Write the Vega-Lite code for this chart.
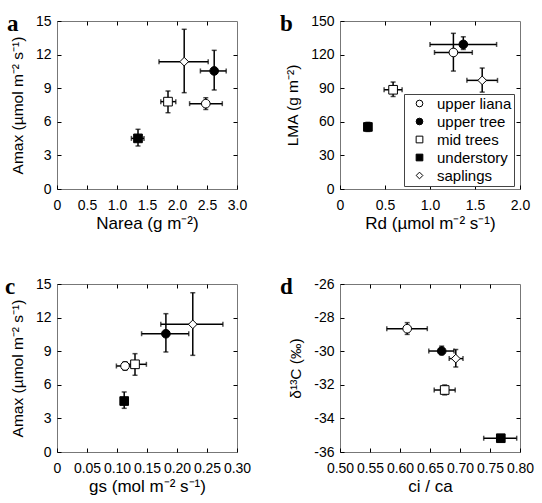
{
  "$schema": "https://vega.github.io/schema/vega-lite/v6.json",
  "padding": {"left": 4, "top": 12, "right": 5, "bottom": 5},
  "background": "white",
  "datasets": {
    "a": [
      {"group": "upper liana", "x": 2.48, "xlo": 2.21, "xhi": 2.755, "y": 7.62, "ylo": 7.1, "yhi": 8.15},
      {"group": "upper tree", "x": 2.62, "xlo": 2.39, "xhi": 2.82, "y": 10.54, "ylo": 8.84, "yhi": 12.38},
      {"group": "mid trees", "x": 1.85, "xlo": 1.73, "xhi": 1.98, "y": 7.8, "ylo": 6.81, "yhi": 8.75},
      {"group": "understory", "x": 1.35, "xlo": 1.24, "xhi": 1.45, "y": 4.52, "ylo": 3.84, "yhi": 5.33},
      {"group": "saplings", "x": 2.12, "xlo": 1.7, "xhi": 2.52, "y": 11.37, "ylo": 8.6, "yhi": 14.26}
    ],
    "b": [
      {"group": "upper liana", "x": 1.26, "xlo": 1.05, "xhi": 1.47, "y": 121.9, "ylo": 105.3, "yhi": 139},
      {"group": "upper tree", "x": 1.37, "xlo": 1.0, "xhi": 1.74, "y": 129.1, "ylo": 124.6, "yhi": 135.9},
      {"group": "mid trees", "x": 0.59, "xlo": 0.49, "xhi": 0.69, "y": 88.6, "ylo": 82.6, "yhi": 95.5},
      {"group": "understory", "x": 0.31, "xlo": 0.28, "xhi": 0.34, "y": 55.4, "ylo": 51.4, "yhi": 59.5},
      {"group": "saplings", "x": 1.58, "xlo": 1.41, "xhi": 1.75, "y": 97, "ylo": 86.5, "yhi": 108}
    ],
    "c": [
      {"group": "upper liana", "x": 0.1134, "xlo": 0.099, "xhi": 0.125, "y": 7.68, "ylo": 7.3, "yhi": 8.06},
      {"group": "upper tree", "x": 0.1815, "xlo": 0.141, "xhi": 0.2196, "y": 10.56, "ylo": 8.93, "yhi": 12.35},
      {"group": "mid trees", "x": 0.13, "xlo": 0.116, "xhi": 0.149, "y": 7.83, "ylo": 6.85, "yhi": 8.78},
      {"group": "understory", "x": 0.112, "xlo": 0.108, "xhi": 0.116, "y": 4.55, "ylo": 3.9, "yhi": 5.36},
      {"group": "saplings", "x": 0.2263, "xlo": 0.173, "xhi": 0.2765, "y": 11.4, "ylo": 8.63, "yhi": 14.22}
    ],
    "d": [
      {"group": "upper liana", "x": 0.612, "xlo": 0.578, "xhi": 0.6455, "y": -28.66, "ylo": -29.0, "yhi": -28.3},
      {"group": "upper tree", "x": 0.6695, "xlo": 0.648, "xhi": 0.69, "y": -29.99, "ylo": -30.2, "yhi": -29.7},
      {"group": "mid trees", "x": 0.6745, "xlo": 0.657, "xhi": 0.692, "y": -32.31, "ylo": -32.6, "yhi": -32.01},
      {"group": "understory", "x": 0.768, "xlo": 0.7395, "xhi": 0.7945, "y": -35.18, "ylo": -35.3, "yhi": -35.06},
      {"group": "saplings", "x": 0.693, "xlo": 0.682, "xhi": 0.705, "y": -30.44, "ylo": -30.94, "yhi": -29.9}
    ]
  },
  "columns": 2,
  "spacing": {"row": 95, "column": 103},
  "bounds": "flush",
  "resolve": {"scale": {"shape": "independent", "fill": "independent"}, "legend": {"shape": "independent", "fill": "independent"}},
  "concat": [
    {
      "width": 180, "height": 168,
      "data": {"name": "a"},
      "title": {"text": "a", "dx": -50},
      "resolve": {"axis": {"x": "independent", "y": "independent"}},
      "layer": [
        {
          "mark": {"type": "errorbar", "ticks": true, "size": 5, "thickness": 1.5, "color": "black"},
          "encoding": {
            "x": {"field": "xlo", "type": "quantitative", "scale": {"domain": [0, 3], "nice": false, "zero": false}, "axis": {"orient": "top", "labels": false, "title": null, "values": [0.5, 1, 1.5, 2, 2.5]}},
            "x2": {"field": "xhi"},
            "y": {"field": "y", "type": "quantitative", "scale": {"domain": [0, 15], "nice": false, "zero": false}, "axis": null}
          }
        },
        {
          "mark": {"type": "errorbar", "ticks": true, "size": 5, "thickness": 1.5, "color": "black"},
          "encoding": {
            "y": {"field": "ylo", "type": "quantitative", "scale": {"domain": [0, 15], "nice": false, "zero": false}, "axis": {"orient": "right", "labels": false, "title": null, "values": [3, 6, 9, 12]}},
            "y2": {"field": "yhi"},
            "x": {"field": "x", "type": "quantitative", "scale": {"domain": [0, 3], "nice": false, "zero": false}, "axis": null}
          }
        },
        {
          "mark": {"type": "point", "filled": true, "stroke": "black", "strokeWidth": 1, "size": 75, "opacity": 1},
          "encoding": {
            "x": {"field": "x", "type": "quantitative", "scale": {"domain": [0, 3], "nice": false, "zero": false}, "axis": {"values": [0, 0.5, 1, 1.5, 2, 2.5, 3], "title": "Narea (g m⁻²)", "labelExpr": "datum.value == 0 ? '0' : format(datum.value, '.1f')"}},
            "y": {"field": "y", "type": "quantitative", "scale": {"domain": [0, 15], "nice": false, "zero": false}, "axis": {"values": [0, 3, 6, 9, 12, 15], "title": "Amax (µmol m⁻² s⁻¹)"}},
            "shape": {"field": "group", "type": "nominal", "scale": {"domain": ["upper liana", "upper tree", "mid trees", "understory", "saplings"], "range": ["circle", "circle", "square", "square", "diamond"]}, "legend": null},
            "fill": {"field": "group", "type": "nominal", "scale": {"domain": ["upper liana", "upper tree", "mid trees", "understory", "saplings"], "range": ["white", "black", "white", "black", "white"]}, "legend": null}
          }
        }
      ]
    },
    {
      "width": 180, "height": 168,
      "data": {"name": "b"},
      "title": {"text": "b", "dx": -60},
      "resolve": {"axis": {"x": "independent", "y": "independent"}},
      "layer": [
        {
          "mark": {"type": "errorbar", "ticks": true, "size": 5, "thickness": 1.5, "color": "black"},
          "encoding": {
            "x": {"field": "xlo", "type": "quantitative", "scale": {"domain": [0, 2], "nice": false, "zero": false}, "axis": {"orient": "top", "labels": false, "title": null, "values": [0.5, 1, 1.5]}},
            "x2": {"field": "xhi"},
            "y": {"field": "y", "type": "quantitative", "scale": {"domain": [0, 150], "nice": false, "zero": false}, "axis": null}
          }
        },
        {
          "mark": {"type": "errorbar", "ticks": true, "size": 5, "thickness": 1.5, "color": "black"},
          "encoding": {
            "y": {"field": "ylo", "type": "quantitative", "scale": {"domain": [0, 150], "nice": false, "zero": false}, "axis": {"orient": "right", "labels": false, "title": null, "values": [30, 60, 90, 120]}},
            "y2": {"field": "yhi"},
            "x": {"field": "x", "type": "quantitative", "scale": {"domain": [0, 2], "nice": false, "zero": false}, "axis": null}
          }
        },
        {
          "mark": {"type": "point", "filled": true, "stroke": "black", "strokeWidth": 1, "size": 75, "opacity": 1},
          "encoding": {
            "x": {"field": "x", "type": "quantitative", "scale": {"domain": [0, 2], "nice": false, "zero": false}, "axis": {"values": [0, 0.5, 1, 1.5, 2], "title": "Rd (µmol m⁻² s⁻¹)", "labelExpr": "datum.value == 0 ? '0' : format(datum.value, '.1f')"}},
            "y": {"field": "y", "type": "quantitative", "scale": {"domain": [0, 150], "nice": false, "zero": false}, "axis": {"values": [0, 30, 60, 90, 120, 150], "title": "LMA (g m⁻²)"}},
            "shape": {"field": "group", "type": "nominal", "scale": {"domain": ["upper liana", "upper tree", "mid trees", "understory", "saplings"], "range": ["circle", "circle", "square", "square", "diamond"]},
              "legend": {"orient": "none", "legendX": 64, "legendY": 73, "title": null, "strokeColor": "#444", "fillColor": "white", "padding": 2, "symbolOffset": 6, "labelFont": "Liberation Sans", "labelFontSize": 15, "labelColor": "black", "symbolSize": 45, "rowPadding": 2, "labelOffset": 10, "symbolStrokeWidth": 1}},
            "fill": {"field": "group", "type": "nominal", "scale": {"domain": ["upper liana", "upper tree", "mid trees", "understory", "saplings"], "range": ["white", "black", "white", "black", "white"]},
              "legend": {"orient": "none", "legendX": 64, "legendY": 73, "title": null, "strokeColor": "#444", "fillColor": "white", "padding": 2, "symbolOffset": 6, "labelFont": "Liberation Sans", "labelFontSize": 15, "labelColor": "black", "symbolSize": 45, "rowPadding": 2, "labelOffset": 10, "symbolStrokeWidth": 1}}
          }
        }
      ]
    },
    {
      "width": 180, "height": 168,
      "data": {"name": "c"},
      "title": {"text": "c", "dx": -52},
      "resolve": {"axis": {"x": "independent", "y": "independent"}},
      "layer": [
        {
          "mark": {"type": "errorbar", "ticks": true, "size": 5, "thickness": 1.5, "color": "black"},
          "encoding": {
            "x": {"field": "xlo", "type": "quantitative", "scale": {"domain": [0, 0.3], "nice": false, "zero": false}, "axis": {"orient": "top", "labels": false, "title": null, "values": [0.05, 0.1, 0.15, 0.2, 0.25]}},
            "x2": {"field": "xhi"},
            "y": {"field": "y", "type": "quantitative", "scale": {"domain": [0, 15], "nice": false, "zero": false}, "axis": null}
          }
        },
        {
          "mark": {"type": "errorbar", "ticks": true, "size": 5, "thickness": 1.5, "color": "black"},
          "encoding": {
            "y": {"field": "ylo", "type": "quantitative", "scale": {"domain": [0, 15], "nice": false, "zero": false}, "axis": {"orient": "right", "labels": false, "title": null, "values": [3, 6, 9, 12]}},
            "y2": {"field": "yhi"},
            "x": {"field": "x", "type": "quantitative", "scale": {"domain": [0, 0.3], "nice": false, "zero": false}, "axis": null}
          }
        },
        {
          "mark": {"type": "point", "filled": true, "stroke": "black", "strokeWidth": 1, "size": 75, "opacity": 1},
          "encoding": {
            "x": {"field": "x", "type": "quantitative", "scale": {"domain": [0, 0.3], "nice": false, "zero": false}, "axis": {"values": [0, 0.05, 0.1, 0.15, 0.2, 0.25, 0.3], "title": "gs (mol m⁻² s⁻¹)", "labelExpr": "datum.value == 0 ? '0' : format(datum.value, '.2f')"}},
            "y": {"field": "y", "type": "quantitative", "scale": {"domain": [0, 15], "nice": false, "zero": false}, "axis": {"values": [0, 3, 6, 9, 12, 15], "title": "Amax (µmol m⁻² s⁻¹)"}},
            "shape": {"field": "group", "type": "nominal", "scale": {"domain": ["upper liana", "upper tree", "mid trees", "understory", "saplings"], "range": ["circle", "circle", "square", "square", "diamond"]}, "legend": null},
            "fill": {"field": "group", "type": "nominal", "scale": {"domain": ["upper liana", "upper tree", "mid trees", "understory", "saplings"], "range": ["white", "black", "white", "black", "white"]}, "legend": null}
          }
        }
      ]
    },
    {
      "width": 180, "height": 168,
      "data": {"name": "d"},
      "title": {"text": "d", "dx": -60},
      "resolve": {"axis": {"x": "independent", "y": "independent"}},
      "layer": [
        {
          "mark": {"type": "errorbar", "ticks": true, "size": 5, "thickness": 1.5, "color": "black"},
          "encoding": {
            "x": {"field": "xlo", "type": "quantitative", "scale": {"domain": [0.5, 0.8], "nice": false, "zero": false}, "axis": {"orient": "top", "labels": false, "title": null, "values": [0.55, 0.6, 0.65, 0.7, 0.75]}},
            "x2": {"field": "xhi"},
            "y": {"field": "y", "type": "quantitative", "scale": {"domain": [-36, -26], "nice": false, "zero": false}, "axis": null}
          }
        },
        {
          "mark": {"type": "errorbar", "ticks": true, "size": 5, "thickness": 1.5, "color": "black"},
          "encoding": {
            "y": {"field": "ylo", "type": "quantitative", "scale": {"domain": [-36, -26], "nice": false, "zero": false}, "axis": {"orient": "right", "labels": false, "title": null, "values": [-34, -32, -30, -28]}},
            "y2": {"field": "yhi"},
            "x": {"field": "x", "type": "quantitative", "scale": {"domain": [0.5, 0.8], "nice": false, "zero": false}, "axis": null}
          }
        },
        {
          "mark": {"type": "point", "filled": true, "stroke": "black", "strokeWidth": 1, "size": 75, "opacity": 1},
          "encoding": {
            "x": {"field": "x", "type": "quantitative", "scale": {"domain": [0.5, 0.8], "nice": false, "zero": false}, "axis": {"values": [0.5, 0.55, 0.6, 0.65, 0.7, 0.75, 0.8], "title": "ci / ca", "labelExpr": "format(datum.value, '.2f')"}},
            "y": {"field": "y", "type": "quantitative", "scale": {"domain": [-36, -26], "nice": false, "zero": false}, "axis": {"values": [-36, -34, -32, -30, -28, -26], "title": "δ¹³C (‰)", "labelExpr": "'' + datum.value"}},
            "shape": {"field": "group", "type": "nominal", "scale": {"domain": ["upper liana", "upper tree", "mid trees", "understory", "saplings"], "range": ["circle", "circle", "square", "square", "diamond"]}, "legend": null},
            "fill": {"field": "group", "type": "nominal", "scale": {"domain": ["upper liana", "upper tree", "mid trees", "understory", "saplings"], "range": ["white", "black", "white", "black", "white"]}, "legend": null}
          }
        }
      ]
    }
  ],
  "config": {
    "font": "Liberation Sans",
    "view": {"stroke": "#777", "strokeWidth": 1},
    "axis": {"labelFont": "Liberation Sans", "labelFontSize": 14, "labelColor": "black", "titleFont": "Liberation Sans", "titleFontSize": 17, "titleFontWeight": "normal", "titleColor": "black", "tickColor": "black", "tickSize": -4, "tickWidth": 1, "domain": false, "grid": false, "labelOverlap": false, "labelFlush": false, "labelPadding": 10, "titlePadding": 8},
    "axisX": {"labelPadding": 13, "titlePadding": 3, "labelDx": 3},
    "axisY": {"titlePadding": 10, "titleFontSize": 15.5},
    "title": {"font": "Liberation Serif", "fontSize": 23, "fontWeight": "bold", "color": "black", "anchor": "start", "frame": "group", "offset": 0, "baseline": "alphabetic", "dy": 26}
  }
}
